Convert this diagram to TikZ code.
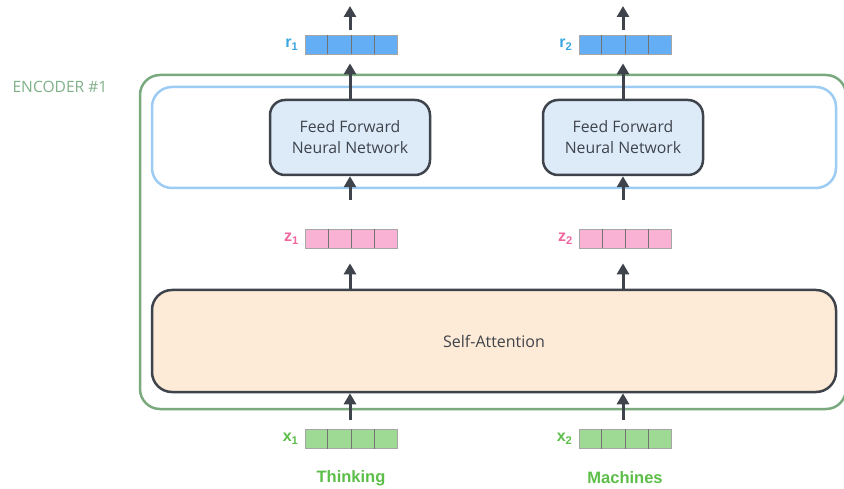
\documentclass[tikz,border=0pt]{standalone}
\usepackage{fontspec}
\setmainfont{Open Sans}
\newfontfamily\wordfont{Liberation Sans}
\usetikzlibrary{arrows.meta,positioning,calc}
\definecolor{encgreen}{HTML}{7AA97E}
\definecolor{enctext}{HTML}{80B088}
\definecolor{ffnline}{HTML}{9CCBF4}
\definecolor{boxgray}{HTML}{3F444C}
\definecolor{ffnfill}{HTML}{DDEBF9}
\definecolor{attfill}{HTML}{FDEAD7}
\definecolor{rfill}{HTML}{64AEF5}
\definecolor{rtext}{HTML}{3AA6E0}
\definecolor{zfill}{HTML}{F9B2D3}
\definecolor{ztext}{HTML}{F0669F}
\definecolor{xfill}{HTML}{9FDA94}
\definecolor{xtext}{HTML}{5CBE48}

\tikzset{
  flow/.style={->, line width=3pt, color=boxgray},
  vec/.style={draw=gray!70, line width=0.7pt, minimum width=92pt, minimum height=19pt, inner sep=0pt},
  veclabel/.style={font=\wordfont\bfseries\fontsize{16}{16}\selectfont, inner sep=0pt},
  ffn/.style={draw=boxgray, line width=2.5pt, fill=ffnfill, rounded corners=15pt,
    minimum width=160pt, minimum height=75pt, align=center, font=\fontsize{15.8}{21}\selectfont, text=boxgray},
  word/.style={font=\wordfont\bfseries\fontsize{16.5}{16.5}\selectfont, text=xtext}
}

\begin{document}
\begin{tikzpicture}[x=1pt,y=-1pt,>={Triangle[width=12pt,length=11pt]}]
\useasboundingbox (0,0) rectangle (844,489);

% encoder frame and layers
\node[draw=encgreen, line width=2.5pt, rounded corners=20pt, minimum width=706pt, minimum height=334pt] (enc) at (493,242) {};
\node[text=enctext, font=\fontsize{15.6}{15.6}\selectfont] (enclabel) at (60,87) {ENCODER \#1};
\node[draw=ffnline, line width=2.5pt, rounded corners=20pt, minimum width=684pt, minimum height=101pt] (ffnlayer) at (494,137.5) {};
\node[draw=boxgray, line width=2.5pt, fill=attfill, rounded corners=20pt, minimum width=684pt, minimum height=102pt,
  font=\fontsize{16}{16}\selectfont, text=boxgray] (att) at (494,341) {Self-Attention};

\node[ffn] (ffn1) at (350,137.5) {Feed Forward\\Neural Network};
\node[ffn] (ffn2) at (623,137.5) {Feed Forward\\Neural Network};

% vectors
\node[vec, fill=rfill] (r1) at (351,44.5) {};
\node[vec, fill=rfill] (r2) at (625,44.5) {};
\node[vec, fill=zfill] (z1) at (351.5,238.5) {};
\node[vec, fill=zfill] (z2) at (625.5,238.5) {};
\node[vec, fill=xfill] (x1) at (351,439) {};
\node[vec, fill=xfill] (x2) at (625,439) {};
\foreach \v in {r1,r2,z1,z2,x1,x2}
  \foreach \k in {1,2,3}
    \draw[gray!90!black, line width=0.7pt] ($(\v.north west)!\k/4!(\v.north east)$) -- ($(\v.south west)!\k/4!(\v.south east)$);

\node[veclabel, left=6pt of r1, text=rtext] (r1label) {r\textsubscript{1}};
\node[veclabel, left=6pt of r2, text=rtext] (r2label) {r\textsubscript{2}};
\node[veclabel, left=6pt of z1, text=ztext] (z1label) {z\textsubscript{1}};
\node[veclabel, left=6pt of z2, text=ztext] (z2label) {z\textsubscript{2}};
\node[veclabel, left=6pt of x1, text=xtext] (x1label) {x\textsubscript{1}};
\node[veclabel, left=6pt of x2, text=xtext] (x2label) {x\textsubscript{2}};

\node[word] (w1) at (351,478) {Thinking};
\node[word] (w2) at (625,478) {Machines};

% arrows
\coordinate (out1) at (350,6);
\coordinate (out2) at (623,6);
\draw[flow, shorten <=5pt] (r1.north -| out1) -- (out1);
\draw[flow, shorten <=5pt] (r2.north -| out2) -- (out2);
\draw[flow, shorten >=9pt] (ffn1.north) -- (ffn1.north |- r1.south);
\draw[flow, shorten >=9pt] (ffn2.north) -- (ffn2.north |- r2.south);
\draw[flow, shorten <=29pt] (ffn1.south |- z1.north) -- (ffn1.south);
\draw[flow, shorten <=29pt] (ffn2.south |- z2.north) -- (ffn2.south);
\draw[flow, shorten >=15pt] (att.north -| ffn1) -- (ffn1 |- z1.south);
\draw[flow, shorten >=15pt] (att.north -| ffn2) -- (ffn2 |- z2.south);
\draw[flow, shorten <=9pt] (ffn1 |- x1.north) -- (att.south -| ffn1);
\draw[flow, shorten <=9pt] (ffn2 |- x2.north) -- (att.south -| ffn2);
\end{tikzpicture}
\end{document}
